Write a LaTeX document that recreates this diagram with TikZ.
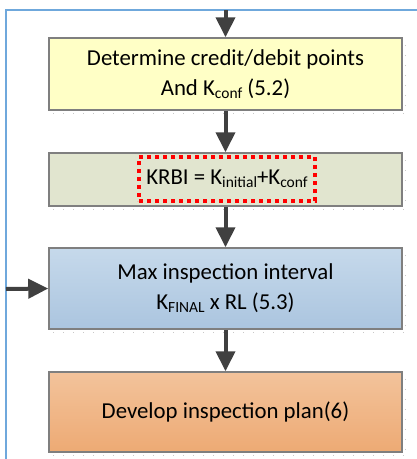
\documentclass[tikz,border=0pt]{standalone}
\usepackage{fontspec}
\setmainfont{Carlito}
\usetikzlibrary{arrows.meta,calc}
\definecolor{frameblue}{HTML}{6FA8DC}
\definecolor{arrowgray}{HTML}{404040}
\definecolor{boxborder}{HTML}{7F7F7F}
\definecolor{yellowfill}{HTML}{FFFFC6}
\definecolor{greenfill}{HTML}{E1E5CF}
\definecolor{bluetop}{HTML}{C6D9EB}
\definecolor{bluebot}{HTML}{ABC5DF}
\definecolor{orangetop}{HTML}{F3C39B}
\definecolor{orangebot}{HTML}{EDAA74}
\definecolor{shadowgray}{HTML}{C8C8C8}
\newcommand{\mysub}[1]{\raisebox{-0.28ex}{\fontsize{15.5}{16}\selectfont #1}}
\tikzset{
  stepbox/.style={draw=boxborder, line width=1.5pt, minimum width=353pt, inner sep=0pt,
    align=center, font=\fontsize{22.8}{30}\selectfont, text=black},
  flowarrow/.style={draw=arrowgray, line width=4pt, -{Triangle[length=20pt,width=19pt]}},
  shadowline/.style={draw=shadowgray, line width=1pt, dash pattern=on 1pt off 9pt},
}
\begin{document}
\begin{tikzpicture}[x=1pt,y=-1pt]
\useasboundingbox (0,0) rectangle (417,459);
% frame
\draw[frameblue, line width=2pt] (6,459) -- (6,10) -- (417,10);
\coordinate (top) at (225.5,10);
\coordinate (left) at (6,289);
% boxes
\node[stepbox, fill=yellowfill, minimum height=72pt] (b1) at (225.5,74)
  {Determine credit/debit points\\And K\mysub{conf} (5.2)};
\node[stepbox, fill=greenfill, minimum height=53pt] (b2) at (225.5,179.5) {};
\node[draw=red, line width=4pt, dash pattern=on 4pt off 4pt, minimum width=176pt, minimum height=44pt,
  inner sep=0pt, font=\fontsize{22.8}{30}\selectfont] (krbi) at (227,179)
  {KRBI = K\mysub{initial}+K\mysub{conf}};
\node[stepbox, top color=bluetop, bottom color=bluebot, minimum height=81pt] (b3) at (225.5,288.5)
  {Max inspection interval\\K\mysub{FINAL} x RL (5.3)};
\node[stepbox, top color=orangetop, bottom color=orangebot, minimum height=80pt] (b4) at (225.5,412)
  {Develop inspection plan(6)};
% shadows
\foreach \b in {b1,b2,b3,b4}{
  \draw[shadowline] ($(\b.north east)+(3,8)$) -- ($(\b.south east)+(3,3)$);
  \draw[shadowline] ($(\b.south west)+(5,3)$) -- ($(\b.south east)+(3,3)$);
}
% arrows
\draw[flowarrow] (top) -- (b1.north);
\draw[flowarrow] (b1.south) -- (b2.north);
\draw[flowarrow] (b2.south) -- (b3.north);
\draw[flowarrow] (b3.south) -- (b4.north);
\draw[flowarrow] (left) -- (b3.west);
\end{tikzpicture}
\end{document}
